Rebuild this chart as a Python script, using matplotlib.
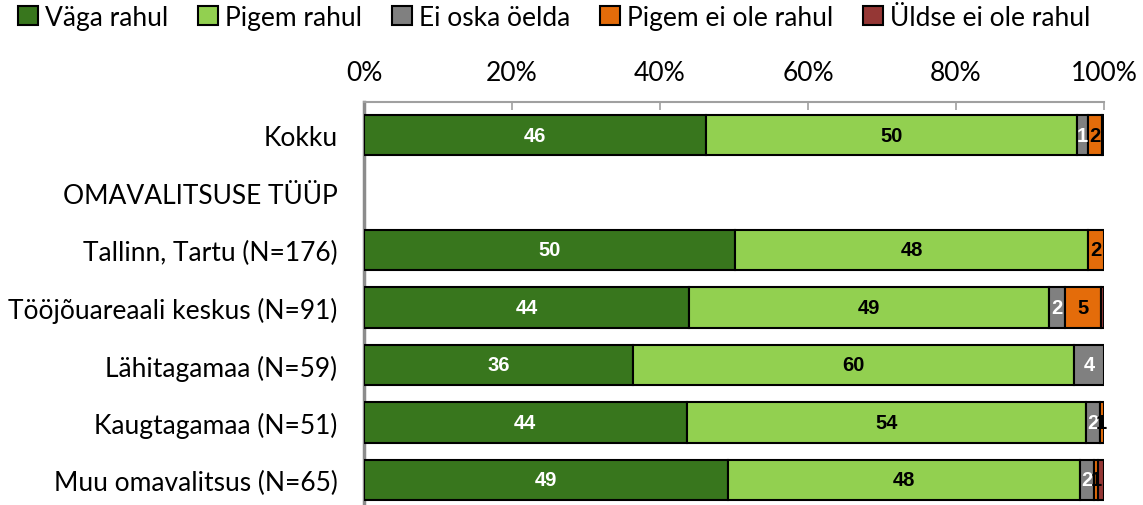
import matplotlib
matplotlib.use("Agg")
import matplotlib.pyplot as plt
from matplotlib.patches import Patch
import numpy as np

categories = ["Kokku", "OMAVALITSUSE TÜÜP", "Tallinn, Tartu (N=176)",
              "Tööjõuareaali keskus (N=91)", "Lähitagamaa (N=59)",
              "Kaugtagamaa (N=51)", "Muu omavalitsus (N=65)"]
series_names = ["Väga rahul", "Pigem rahul", "Ei oska öelda",
                "Pigem ei ole rahul", "Üldse ei ole rahul"]
vaga_rahul = [46.2, 0, 50.2, 43.9, 36.3, 43.6, 49.2]
pigem_rahul = [50.2, 0, 47.6, 48.6, 59.6, 54.0, 47.6]
ei_oska = [1.4, 0, 0, 2.2, 4.1, 1.8, 1.8]
pigem_ei = [1.9, 0, 2.2, 4.85, 0, 0.6, 0.6]
uldse_ei = [0.3, 0, 0, 0.45, 0, 0, 0.8]
tick_labels = ["0%", "20%", "40%", "60%", "80%", "100%"]

colors = ["#38761D", "#92D050", "#808080", "#E46C0A", "#953735"]
label_colors = ["white", "black", "white", "black", "white"]

plt.rcParams['font.family'] = ['Lato', 'DejaVu Sans']

fig = plt.figure(figsize=(11.43, 5.06), dpi=100)
ax = fig.add_axes([364/1143, 0, (1104-364)/1143, 1 - 103/506])

series = [vaga_rahul, pigem_rahul, ei_oska, pigem_ei, uldse_ei]
y = np.arange(len(categories))
left = np.zeros(len(categories))
last_label_x = np.full(len(categories), -100.0)
for s, vals in enumerate(series):
    vals = np.array(vals, dtype=float)
    mask = vals > 0
    ax.barh(y[mask], vals[mask], left=left[mask], height=0.7, color=colors[s],
            edgecolor="black", linewidth=1.5, zorder=3)
    for i in np.where(mask)[0]:
        lab = int(round(vals[i]))
        cx = left[i] + vals[i] / 2
        if lab >= 1 and cx - last_label_x[i] >= 1.1:
            ax.text(cx, y[i], str(lab), ha="center", va="center",
                    color=label_colors[s], fontsize=14.5, fontweight="bold",
                    family="Liberation Sans", zorder=4)
            last_label_x[i] = cx
    left = left + vals

ax.set_xlim(0, 100)
ax.set_ylim(6.435, -0.574)
ax.set_yticks(y)
ax.set_yticklabels(categories, fontsize=19)
ax.tick_params(axis="y", length=0, pad=19)
ax.xaxis.tick_top()
ax.set_xticks([0, 20, 40, 60, 80, 100])
ax.set_xticklabels(tick_labels, fontsize=19)
ax.tick_params(axis="x", length=6, width=1.2, color="#A0A0A0", pad=12, direction="in")
for sp in ["right", "bottom"]:
    ax.spines[sp].set_visible(False)
ax.spines["top"].set_color("#A0A0A0")
ax.spines["top"].set_linewidth(1.5)
ax.spines["left"].set_color("#8C8C8C")
ax.spines["left"].set_linewidth(2.5)

handles = [Patch(facecolor=c, edgecolor="black", linewidth=1.5) for c in colors]
fig.legend(handles, series_names, loc="upper left", bbox_to_anchor=(0.0, 1.025),
           ncol=5, frameon=False, fontsize=19, handlelength=0.75, handleheight=0.75,
           handletextpad=0.25, columnspacing=1.15, borderaxespad=0.3)

fig.savefig("out.png", dpi=100)
